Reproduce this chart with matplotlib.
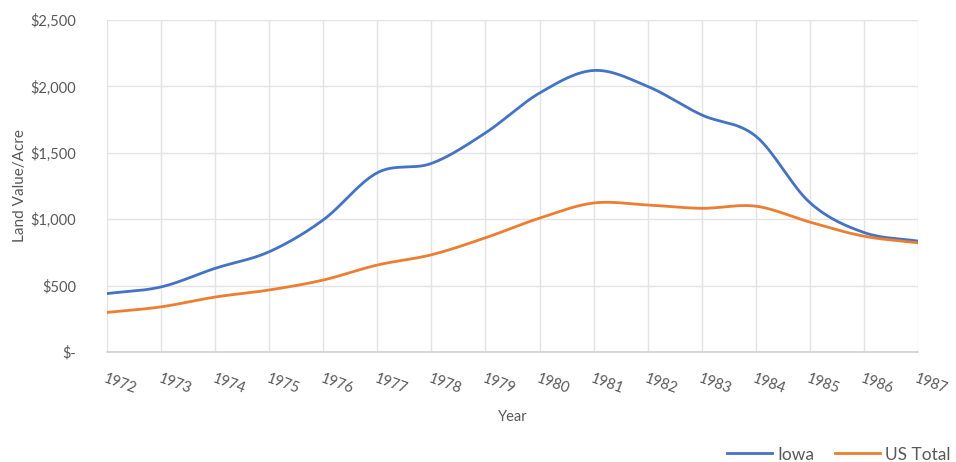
import numpy as np
import matplotlib
matplotlib.use("Agg")
import matplotlib.pyplot as plt
from matplotlib.lines import Line2D

plt.rcParams['font.family'] = ['Lato', 'DejaVu Sans']

years = [1972, 1973, 1974, 1975, 1976, 1977, 1978, 1979,
         1980, 1981, 1982, 1983, 1984, 1985, 1986, 1987]
iowa = [440, 490, 630, 755, 995, 1350, 1420, 1650,
        1950, 2120, 2000, 1785, 1625, 1125, 900, 835]
us_total = [298, 340, 414, 467, 542, 655, 732, 860,
            1008, 1122, 1107, 1082, 1098, 978, 872, 822]
y_ticks = [0, 500, 1000, 1500, 2000, 2500]
y_tick_labels = ['$-', '$500', '$1,000', '$1,500', '$2,000', '$2,500']

BLUE = '#4472C4'
ORANGE = '#ED7D31'
TEXT = '#595959'
GRID = '#E3E3E3'


def smooth(x, y, n=30):
    """Catmull-Rom curve through the points, like a spreadsheet's smoothed line."""
    x = np.asarray(x, float)
    y = np.asarray(y, float)
    px = np.concatenate([[2 * x[0] - x[1]], x, [2 * x[-1] - x[-2]]])
    py = np.concatenate([[2 * y[0] - y[1]], y, [2 * y[-1] - y[-2]]])
    xs, ys = [], []
    t = np.linspace(0, 1, n, endpoint=False)
    for i in range(1, len(px) - 2):
        for arr, out in ((px, xs), (py, ys)):
            p0, p1, p2, p3 = arr[i - 1], arr[i], arr[i + 1], arr[i + 2]
            out.extend(0.5 * ((2 * p1) + (-p0 + p2) * t
                              + (2 * p0 - 5 * p1 + 4 * p2 - p3) * t ** 2
                              + (-p0 + 3 * p1 - 3 * p2 + p3) * t ** 3))
    xs.append(x[-1])
    ys.append(y[-1])
    return np.array(xs), np.array(ys)


fig = plt.figure(figsize=(9.56, 4.62), dpi=100)
ax = fig.add_axes([107 / 956, 1 - 352 / 462, (918 - 107) / 956, (352 - 20) / 462])

sx, sy = smooth(years, iowa)
ax.plot(sx, sy, color=BLUE, lw=2.0, solid_capstyle='round', zorder=3)
sx, sy = smooth(years, us_total)
ax.plot(sx, sy, color=ORANGE, lw=2.0, solid_capstyle='round', zorder=3)

ax.set_xlim(years[0], years[-1])
ax.set_ylim(0, 2500)
ax.set_xticks(years)
ax.set_xticklabels([str(y) for y in years], rotation=-20, ha='left', va='top',
                   rotation_mode='anchor', fontsize=10.5, color=TEXT)
ax.set_yticks(y_ticks)
ax.set_yticklabels(y_tick_labels, fontsize=10.5, color=TEXT)
ax.tick_params(axis='both', length=0)
ax.tick_params(axis='x', pad=14)
ax.tick_params(axis='y', pad=22)

ax.grid(True, color=GRID, lw=1.0)
ax.set_axisbelow(True)
for side in ('top', 'right', 'left'):
    ax.spines[side].set_visible(False)
ax.spines['bottom'].set_color('#D0D0D0')
ax.spines['bottom'].set_linewidth(1.2)

ax.set_xlabel('Year', fontsize=10.5, color=TEXT, labelpad=10)
ax.set_ylabel('Land Value/Acre', fontsize=11, color=TEXT, labelpad=3)

handles = [Line2D([], [], color=BLUE, lw=2.0),
           Line2D([], [], color=ORANGE, lw=2.0)]
fig.legend(handles, ['Iowa', 'US Total'], loc='lower right',
           bbox_to_anchor=(1.011, -0.035), ncol=2, frameon=False,
           fontsize=12.5, labelcolor=TEXT, handlelength=2.6,
           handletextpad=0.3, columnspacing=1.2)

fig.savefig('out.png', dpi=100)
